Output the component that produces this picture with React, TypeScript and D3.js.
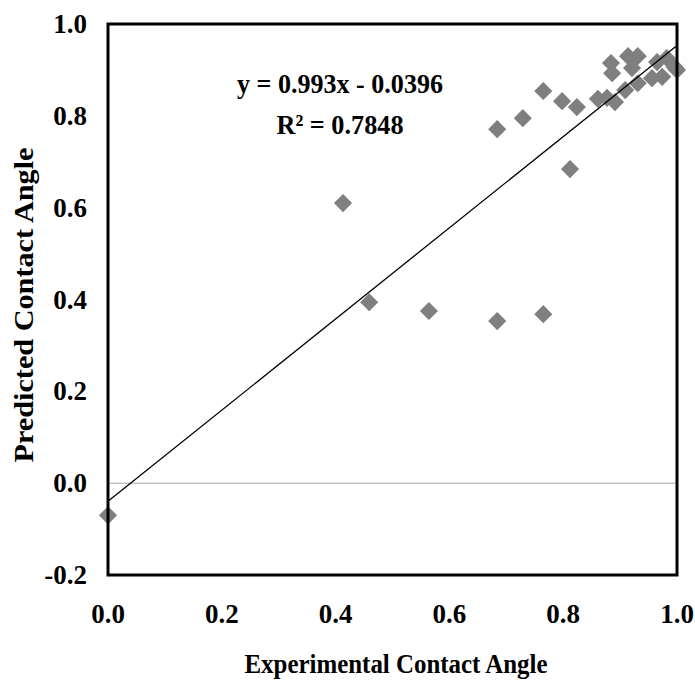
import React, { Component } from "react";
import * as d3 from "d3";

// experimental vs predicted contact angle
const experimental = [
	0.0, 0.413, 0.459, 0.564, 0.684, 0.765, 0.812, 0.684, 0.729, 0.765,
	0.798, 0.824, 0.861, 0.877, 0.891, 0.909, 0.931, 0.956, 0.974, 0.884,
	0.886, 0.914, 0.931, 0.921, 0.965, 0.982, 0.996, 1.0,
];
const predicted = [
	-0.07, 0.61, 0.394, 0.375, 0.353, 0.368, 0.684, 0.771, 0.795, 0.854,
	0.832, 0.819, 0.837, 0.839, 0.83, 0.856, 0.871, 0.882, 0.885, 0.915,
	0.893, 0.93, 0.93, 0.904, 0.917, 0.926, 0.906, 0.9,
];

const xTicks = [0, 0.2, 0.4, 0.6, 0.8, 1.0];
const yTicks = [-0.2, 0, 0.2, 0.4, 0.6, 0.8, 1.0];

const slope = 0.993;
const intercept = -0.0396;
const equationLines = ["y = 0.993x - 0.0396", "R² = 0.7848"];

const FONT = "'Liberation Serif', 'Times New Roman', serif";

class App extends Component {
	svgRef = React.createRef<SVGSVGElement>();

	componentDidMount() {
		this.renderChart();
	}

	componentDidUpdate() {
		this.renderChart();
	}

	renderChart() {
		const root = d3.select(this.svgRef.current);
		root.selectAll("*").remove();

		const margin = { top: 24, right: 18, left: 108, bottom: 105 };
		const totalW = 695;
		const totalH = 680;
		const width = totalW - margin.left - margin.right;
		const height = totalH - margin.top - margin.bottom;

		const xScale = d3.scaleLinear().domain([0, 1]).range([0, width]);
		const yScale = d3.scaleLinear().domain([-0.2, 1.0]).range([height, 0]);

		const svg = root
			.append("g")
			.attr("transform", `translate(${margin.left},${margin.top})`);

		// zero line
		svg.append("line")
			.attr("x1", 0)
			.attr("x2", width)
			.attr("y1", yScale(0))
			.attr("y2", yScale(0))
			.attr("stroke", "#a6a6a6")
			.attr("stroke-width", 1);

		// points
		const data = experimental.map((x, i) => ({ x, y: predicted[i] }));
		const diamond = d3.symbol().type(d3.symbolDiamond2).size(210);
		svg.selectAll("path.pt")
			.data(data)
			.join("path")
			.attr("class", "pt")
			.attr("d", diamond)
			.attr("transform", (d) => `translate(${xScale(d.x)},${yScale(d.y)})`)
			.attr("fill", "#7f7f7f");

		// trend line
		svg.append("line")
			.attr("x1", xScale(0))
			.attr("y1", yScale(intercept))
			.attr("x2", xScale(1))
			.attr("y2", yScale(slope + intercept))
			.attr("stroke", "#000")
			.attr("stroke-width", 1.3);

		// frame
		svg.append("rect")
			.attr("x", 0)
			.attr("y", 0)
			.attr("width", width)
			.attr("height", height)
			.attr("fill", "none")
			.attr("stroke", "#000")
			.attr("stroke-width", 3);

		// tick labels
		svg.selectAll("text.ytick")
			.data(yTicks)
			.join("text")
			.attr("class", "ytick")
			.attr("x", -21)
			.attr("y", (d) => yScale(d) + 9)
			.attr("text-anchor", "end")
			.style("font-family", FONT)
			.style("font-weight", "bold")
			.style("font-size", "27px")
			.text((d) => d.toFixed(1));

		svg.selectAll("text.xtick")
			.data(xTicks)
			.join("text")
			.attr("class", "xtick")
			.attr("x", (d) => xScale(d))
			.attr("y", height + 48)
			.attr("text-anchor", "middle")
			.style("font-family", FONT)
			.style("font-weight", "bold")
			.style("font-size", "27px")
			.text((d) => d.toFixed(1));

		// equation
		svg.selectAll("text.eq")
			.data(equationLines)
			.join("text")
			.attr("class", "eq")
			.attr("x", 340 - margin.left)
			.attr("y", (d, i) => 93 - margin.top + i * 41)
			.attr("text-anchor", "middle")
			.attr("textLength", (d, i) => (i === 0 ? 206 : 127))
			.attr("lengthAdjust", "spacingAndGlyphs")
			.style("font-family", FONT)
			.style("font-weight", "bold")
			.style("font-size", "28px")
			.text((d) => d);

		// axis titles
		root.append("text")
			.attr("x", 396)
			.attr("y", 673)
			.attr("text-anchor", "middle")
			.attr("textLength", 303)
			.attr("lengthAdjust", "spacingAndGlyphs")
			.style("font-family", FONT)
			.style("font-weight", "bold")
			.style("font-size", "28px")
			.text("Experimental Contact Angle");

		root.append("text")
			.attr("transform", "translate(33,305) rotate(-90)")
			.attr("text-anchor", "middle")
			.attr("textLength", 315)
			.attr("lengthAdjust", "spacingAndGlyphs")
			.style("font-family", FONT)
			.style("font-weight", "bold")
			.style("font-size", "27px")
			.text("Predicted Contact Angle");
	}

	render() {
		return (
			<svg
				ref={this.svgRef}
				width={695}
				height={680}
				style={{ position: "absolute", left: 0, top: 0, background: "#fff" }}
			/>
		);
	}
}

export default App;
